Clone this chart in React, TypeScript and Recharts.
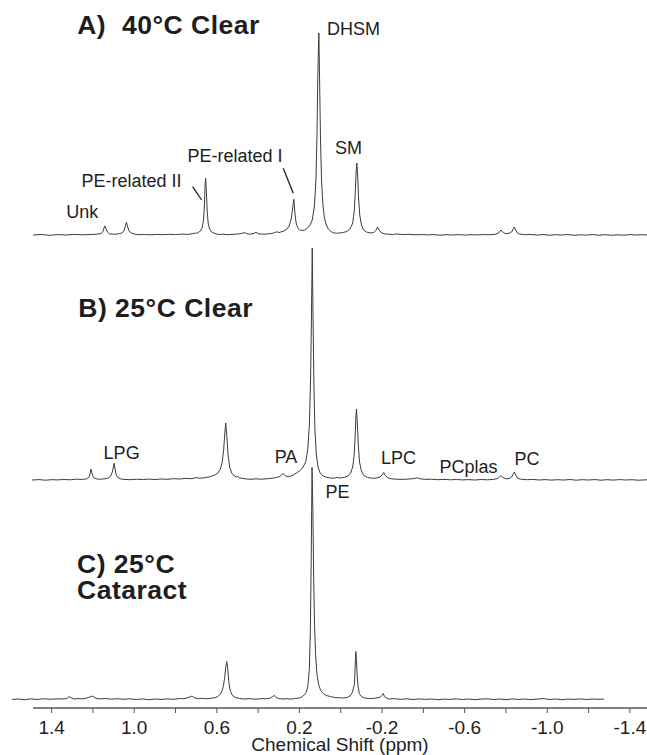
import React from 'react';
import { LineChart, Line, XAxis, YAxis, ReferenceLine, ReferenceDot } from 'recharts';

// Chemical shift (ppm) vs intensity above each spectrum's own baseline
const TRACE_A: [number, number][] = [
  [1.49, 0], [1.45, 0.5], [1.41, -0.3], [1.37, 0.4], [1.33, 0], [1.29, 0.6], [1.25, 0.2], [1.21, 0.5],
  [1.18, 0.8], [1.16, 1.5], [1.15, 4], [1.145, 8], [1.142, 9], [1.138, 7], [1.13, 3], [1.12, 1.2],
  [1.1, 0.8], [1.08, 1], [1.06, 2], [1.05, 4], [1.043, 9], [1.038, 12.7], [1.033, 9], [1.025, 4],
  [1.015, 2], [1.0, 1], [0.98, 0.3], [0.95, 0.5], [0.92, 0.2], [0.89, 0.6], [0.86, 0.3], [0.83, 0.7],
  [0.8, 0.4], [0.77, 0.9], [0.74, 0.6], [0.71, 1.5], [0.705, 2.2], [0.7, 1.6], [0.69, 2.5], [0.68, 4],
  [0.67, 8], [0.664, 16], [0.66, 30], [0.657, 50], [0.654, 56.7], [0.651, 45], [0.647, 25], [0.642, 12],
  [0.635, 6], [0.625, 3], [0.61, 1.5], [0.59, 0.5], [0.57, 0.8], [0.55, 0.3], [0.52, 0.7], [0.5, 1],
  [0.48, 1.5], [0.465, 2.5], [0.455, 1.2], [0.44, 0.8], [0.42, 1.5], [0.41, 2.8], [0.4, 1.3], [0.38, 0.8],
  [0.36, 1], [0.34, 1.4], [0.325, 2], [0.31, 3.2], [0.3, 2.5], [0.29, 3], [0.275, 4], [0.26, 6],
  [0.25, 9], [0.24, 16], [0.234, 25], [0.227, 35.7], [0.222, 22], [0.216, 12], [0.208, 7], [0.198, 5],
  [0.188, 4.5], [0.175, 5], [0.16, 7], [0.148, 10], [0.138, 15], [0.128, 28], [0.12, 55], [0.115, 100],
  [0.111, 160], [0.106, 202], [0.102, 150], [0.098, 95], [0.093, 55], [0.087, 32], [0.08, 18], [0.07, 10],
  [0.06, 6], [0.05, 4], [0.04, 2.5], [0.03, 2], [0.02, 1.8], [0.005, 2], [-0.01, 2.5], [-0.03, 3.5],
  [-0.045, 6], [-0.058, 12], [-0.066, 25], [-0.071, 45], [-0.075, 65], [-0.078, 72], [-0.082, 60],
  [-0.086, 38], [-0.092, 20], [-0.1, 10], [-0.11, 5], [-0.125, 3], [-0.145, 2], [-0.16, 2.5], [-0.17, 4.5],
  [-0.178, 8], [-0.185, 5], [-0.195, 2.5], [-0.21, 1.2], [-0.23, 0.8], [-0.25, 0.5], [-0.27, 1], [-0.3, 0.4],
  [-0.33, 0.7], [-0.36, 0.2], [-0.39, 0.5], [-0.42, 0.1], [-0.45, 0.4], [-0.48, -0.2], [-0.51, 0.3],
  [-0.54, 0], [-0.57, 0.4], [-0.6, -0.1], [-0.63, 0.3], [-0.66, 0.1], [-0.69, 0.5], [-0.72, 0.2],
  [-0.75, 0.8], [-0.765, 2], [-0.776, 5], [-0.787, 2.5], [-0.8, 1.2], [-0.815, 1.8], [-0.83, 3.5],
  [-0.836, 6.5], [-0.84, 8], [-0.845, 6], [-0.853, 2.5], [-0.865, 1], [-0.89, 0.3], [-0.92, 0.5],
  [-0.95, 0], [-0.98, 0.4], [-1.01, -0.2], [-1.04, 0.3], [-1.07, 0], [-1.1, 0.5], [-1.13, -0.3],
  [-1.16, 0.2], [-1.19, -0.1], [-1.22, 0.4], [-1.25, -0.2], [-1.28, 0.3], [-1.31, -0.3], [-1.34, 0.2],
  [-1.37, -0.2], [-1.4, 0.4], [-1.43, 0], [-1.46, 0.3], [-1.483, 0],
];

const TRACE_B: [number, number][] = [
  [1.495, 0], [1.46, 0.4], [1.43, -0.2], [1.4, 0.3], [1.37, 0.1], [1.34, 0.5], [1.31, 0.2], [1.28, 0.8],
  [1.25, 0.6], [1.23, 1.2], [1.22, 2.5], [1.214, 6], [1.209, 11], [1.204, 6], [1.197, 2.5], [1.185, 1.2],
  [1.17, 0.8], [1.15, 1], [1.13, 1.6], [1.115, 3.5], [1.106, 8], [1.101, 13], [1.097, 16.7], [1.093, 11],
  [1.087, 5], [1.078, 2.2], [1.065, 1], [1.05, 0.6], [1.02, 0.3], [0.99, 0.8], [0.96, 0.4], [0.93, 0.9],
  [0.9, 0.5], [0.87, 1], [0.84, 0.7], [0.81, 1.3], [0.78, 1], [0.75, 1.6], [0.72, 1.3], [0.7, 2.5],
  [0.69, 1.8], [0.67, 2], [0.65, 2.6], [0.63, 3.5], [0.61, 5], [0.595, 7], [0.583, 11], [0.574, 18],
  [0.567, 30], [0.562, 45], [0.557, 57], [0.552, 45], [0.546, 26], [0.538, 13], [0.528, 7], [0.515, 4],
  [0.505, 3], [0.498, 3.5], [0.49, 2.2], [0.475, 1.5], [0.455, 1], [0.435, 0.7], [0.41, 1.2], [0.39, 0.8],
  [0.37, 1], [0.35, 1.4], [0.33, 1.8], [0.31, 2.6], [0.295, 3.5], [0.285, 5.5], [0.278, 6.5], [0.27, 4.5],
  [0.26, 3.5], [0.245, 3.8], [0.23, 5], [0.215, 7], [0.2, 9], [0.185, 12], [0.17, 18], [0.16, 30],
  [0.152, 55], [0.146, 100], [0.142, 160], [0.138, 232], [0.134, 160], [0.13, 95], [0.125, 50], [0.118, 25],
  [0.11, 13], [0.1, 7], [0.085, 4], [0.07, 2.8], [0.05, 2], [0.03, 1.8], [0.018, 2.8], [0.008, 2],
  [-0.005, 2.2], [-0.02, 2.8], [-0.035, 4], [-0.048, 7], [-0.058, 13], [-0.065, 25], [-0.07, 45],
  [-0.073, 62], [-0.076, 71], [-0.08, 58], [-0.085, 35], [-0.091, 18], [-0.1, 9], [-0.112, 4.5],
  [-0.13, 2.5], [-0.15, 1.8], [-0.17, 1.8], [-0.19, 3], [-0.2, 5], [-0.208, 7.5], [-0.216, 4.5],
  [-0.228, 2.2], [-0.245, 1.2], [-0.27, 0.8], [-0.3, 0.6], [-0.33, 1], [-0.355, 1.4], [-0.37, 2.2],
  [-0.385, 1.2], [-0.41, 0.6], [-0.44, 0.8], [-0.47, 0.3], [-0.5, 0.6], [-0.53, 0.2], [-0.56, 0.5],
  [-0.59, 0.1], [-0.62, 0.4], [-0.65, 0], [-0.68, 0.5], [-0.71, 0.2], [-0.74, 0.6], [-0.76, 1.5],
  [-0.77, 3.5], [-0.777, 4.5], [-0.785, 2.5], [-0.8, 1.2], [-0.815, 1.5], [-0.83, 3.5], [-0.836, 6.5],
  [-0.841, 8], [-0.847, 5], [-0.856, 2], [-0.87, 0.8], [-0.9, 0.3], [-0.93, 0.6], [-0.96, 0], [-0.99, 0.4],
  [-1.02, -0.1], [-1.05, 0.3], [-1.08, 0], [-1.11, 0.5], [-1.14, -0.2], [-1.17, 0.3], [-1.2, 0],
  [-1.23, 0.4], [-1.26, -0.2], [-1.29, 0.3], [-1.32, -0.1], [-1.35, 0.4], [-1.38, 0], [-1.41, 0.3],
  [-1.44, -0.2], [-1.483, 0.2],
];

const TRACE_C: [number, number][] = [
  [1.592, 0], [1.56, 0.5], [1.53, -0.3], [1.5, 0.6], [1.47, 0], [1.44, 0.8], [1.41, 0.2], [1.38, 0.6],
  [1.34, 0.6], [1.325, 1.2], [1.315, 3], [1.305, 1.5], [1.29, 0.5], [1.27, 1], [1.25, 0.6], [1.225, 1.8],
  [1.2, 3.5], [1.19, 1.5], [1.17, 0.6], [1.14, 1], [1.11, 0.3], [1.08, 0.8], [1.05, 0.2], [1.02, 0.7],
  [0.99, 0], [0.96, 0.6], [0.93, -0.2], [0.9, 0.5], [0.87, 0.1], [0.84, 0.6], [0.81, 0.2], [0.78, 1],
  [0.76, 0.8], [0.74, 1.8], [0.72, 3.5], [0.71, 1.8], [0.69, 0.8], [0.67, 1.2], [0.65, 0.7], [0.63, 1.2],
  [0.61, 1.8], [0.595, 3], [0.583, 5.5], [0.574, 9], [0.568, 14], [0.562, 22], [0.557, 32], [0.552, 38],
  [0.547, 30], [0.541, 16], [0.534, 8], [0.524, 4], [0.51, 2], [0.49, 1], [0.47, 0.5], [0.44, 0.8],
  [0.41, 0.3], [0.38, 0.9], [0.36, 0.7], [0.34, 1.5], [0.33, 3], [0.322, 4], [0.312, 2], [0.3, 0.9],
  [0.28, 0.5], [0.26, 0.8], [0.24, 0.4], [0.22, 1], [0.2, 1.5], [0.185, 3], [0.17, 6], [0.16, 12],
  [0.152, 30], [0.147, 70], [0.143, 140], [0.139, 232], [0.135, 190], [0.131, 120], [0.127, 75],
  [0.122, 45], [0.115, 25], [0.107, 15], [0.097, 9], [0.085, 6], [0.07, 4], [0.05, 3], [0.03, 2],
  [0.01, 1.8], [-0.01, 1.5], [-0.03, 2], [-0.045, 3.5], [-0.056, 7], [-0.066, 15], [-0.069, 28],
  [-0.071, 40], [-0.073, 48], [-0.076, 40], [-0.079, 26], [-0.084, 13], [-0.09, 6], [-0.1, 3],
  [-0.115, 1.5], [-0.135, 1], [-0.155, 1], [-0.17, 1.5], [-0.19, 2.2], [-0.198, 4], [-0.205, 6],
  [-0.211, 3.5], [-0.22, 1.5], [-0.235, 0.5], [-0.26, 0.8], [-0.29, 0.2], [-0.32, 0.7], [-0.35, 0],
  [-0.38, 0.6], [-0.41, 0.1], [-0.44, 0.5], [-0.47, -0.2], [-0.5, 0.4], [-0.53, 0.1], [-0.56, 0.6],
  [-0.59, 0], [-0.62, 0.5], [-0.65, -0.2], [-0.68, 0.4], [-0.71, 0.7], [-0.74, 0], [-0.77, 0.5],
  [-0.8, -0.2], [-0.83, 0.6], [-0.86, 0.1], [-0.89, 0.5], [-0.92, -0.1], [-0.95, 0.4], [-0.98, 0.9],
  [-1.01, 0], [-1.04, 0.5], [-1.07, -0.2], [-1.1, 0.4], [-1.13, 0.1], [-1.16, 0.6], [-1.19, 0],
  [-1.22, 0.5], [-1.25, 0.2], [-1.275, 0.4],
];

const X_TICKS = [1.4, 1.2, 1.0, 0.8, 0.6, 0.4, 0.2, 0, -0.2, -0.4, -0.6, -0.8, -1.0, -1.2, -1.4];
const MAJOR_TICKS = [1.4, 1.0, 0.6, 0.2, -0.2, -0.6, -1.0, -1.4];

// vertical stacking offsets of the three spectra
const OFFSET_A = 473;
const OFFSET_B = 228;
const OFFSET_C = 8.5;

const PANEL_TITLES = [
  { text: 'A)\u00A0\u00A040°C Clear', x: 1.276, y: 683 },
  { text: 'B) 25°C Clear', x: 1.271, y: 399.7 },
  { text: 'C) 25°C', x: 1.277, y: 144 },
  { text: 'Cataract', x: 1.277, y: 118 },
];

const PEAK_LABELS = [
  { text: 'Unk', x: 1.252, y: 496.3 },
  { text: 'PE-related II', x: 1.013, y: 527.3 },
  { text: 'PE-related I', x: 0.512, y: 552.3 },
  { text: 'DHSM', x: -0.0615, y: 678.7 },
  { text: 'SM', x: -0.037, y: 559.7 },
  { text: 'LPG', x: 1.061, y: 254.7 },
  { text: 'PA', x: 0.265, y: 251 },
  { text: 'LPC', x: -0.28, y: 249.7 },
  { text: 'PCplas', x: -0.619, y: 240.7 },
  { text: 'PC', x: -0.902, y: 248.7 },
  { text: 'PE', x: 0.016, y: 216 },
];

const LEADERS = [
  [{ x: 0.2785, y: 539.7 }, { x: 0.23, y: 514.7 }],
  [{ x: 0.7172, y: 521.3 }, { x: 0.6736, y: 508 }],
];

const FONT = '"Liberation Sans", Arial, Helvetica, sans-serif';
const TRACE_COLOR = '#3c3c3c';
const TEXT_COLOR = '#1e1e1e';

const toRows = (t: [number, number][], off: number) => t.map(([x, y]) => ({ x, y: y + off }));

const rowsA = toRows(TRACE_A, OFFSET_A);
const rowsB = toRows(TRACE_B, OFFSET_B);
const rowsC = toRows(TRACE_C, OFFSET_C);

const AxisTick = (props: any) => {
  const { x, y, payload } = props;
  const v = payload.value;
  const major = MAJOR_TICKS.includes(v);
  return (
    <g>
      <line x1={x} x2={x} y1={y} y2={y + 5} stroke="#555" strokeWidth={1} />
      {major && (
        <text x={x} y={y + 19} textAnchor="middle" dominantBaseline="central" fontSize={19} fontFamily={FONT} fill={TEXT_COLOR}>
          {v.toFixed(1)}
        </text>
      )}
    </g>
  );
};

const textShape = (text: string, size: number, bold: boolean, anchor: string, spacing = 0) => (p: any) => (
  <text
    x={p.cx}
    y={p.cy}
    textAnchor={anchor}
    dominantBaseline="central"
    fontSize={size}
    fontWeight={bold ? 700 : 400}
    fontFamily={FONT}
    fill={TEXT_COLOR}
    letterSpacing={spacing}
    style={{ whiteSpace: 'pre' }}
  >
    {text}
  </text>
);

export default function App() {
  return (
    <div style={{ position: 'absolute', left: 0, top: 0, background: '#fff' }}>
      <LineChart width={647} height={755} margin={{ top: 0, right: 0, bottom: 0, left: 0 }}>
        <XAxis
          dataKey="x"
          type="number"
          domain={[-1.483, 1.65]}
          reversed
          allowDataOverflow
          ticks={X_TICKS}
          interval={0}
          axisLine={false}
          tickLine={false}
          tickSize={0}
          tickMargin={0}
          height={47}
          tick={<AxisTick />}
        />
        <YAxis type="number" domain={[0, 708]} allowDataOverflow hide />
        <ReferenceLine
          segment={[{ x: 1.49, y: 0 }, { x: -1.483, y: 0 }]}
          stroke="#555"
          strokeWidth={1.3}
          ifOverflow="visible"
        />
        {LEADERS.map((seg, i) => (
          <ReferenceLine key={'l' + i} segment={seg} stroke="#222" strokeWidth={1.3} ifOverflow="visible" />
        ))}
        <Line data={rowsA} dataKey="y" type="linear" dot={false} activeDot={false} stroke={TRACE_COLOR} strokeWidth={1} isAnimationActive={false} />
        <Line data={rowsB} dataKey="y" type="linear" dot={false} activeDot={false} stroke={TRACE_COLOR} strokeWidth={1} isAnimationActive={false} />
        <Line data={rowsC} dataKey="y" type="linear" dot={false} activeDot={false} stroke={TRACE_COLOR} strokeWidth={1} isAnimationActive={false} />
        {PANEL_TITLES.map((t, i) => (
          <ReferenceDot key={'t' + i} x={t.x} y={t.y} r={0} ifOverflow="visible" shape={textShape(t.text, 26.5, true, 'start', 0.5)} />
        ))}
        {PEAK_LABELS.map((t, i) => (
          <ReferenceDot key={'p' + i} x={t.x} y={t.y} r={0} ifOverflow="visible" shape={textShape(t.text, 18, false, 'middle')} />
        ))}
        <ReferenceDot x={0.0035} y={-36.5} r={0} ifOverflow="visible" shape={textShape('Chemical Shift (ppm)', 19, false, 'middle')} />
      </LineChart>
    </div>
  );
}
